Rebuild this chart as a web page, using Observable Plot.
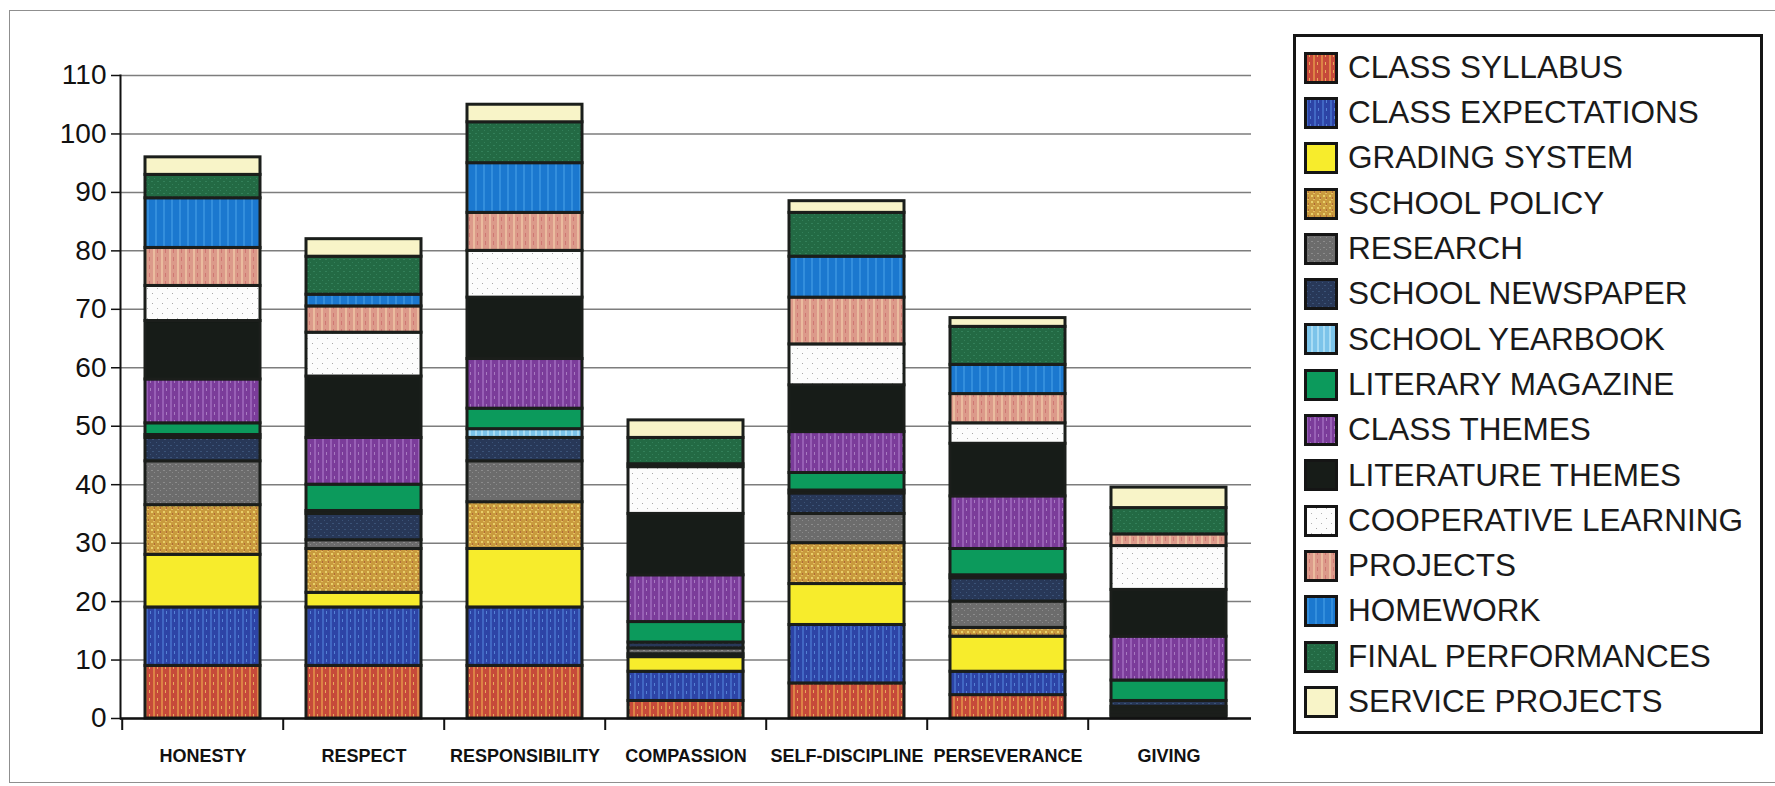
<!DOCTYPE html>
<html>
<head>
<meta charset="utf-8">
<script src="https://cdn.jsdelivr.net/npm/d3@7"></script>
<script src="https://cdn.jsdelivr.net/npm/@observablehq/plot@0.6"></script>
<style>
  body { margin: 0; background: #fff; }
  #wrap { position: relative; width: 1775px; height: 786px; overflow: hidden; background: #fff;
          font-family: "Liberation Sans", Arial, sans-serif; }
  #frame { position: absolute; left: 9px; top: 10px; width: 1800px; height: 771px; border: 1.5px solid #8f8f8f; }
  #chart { position: absolute; left: 0; top: 0; }
  #legend { position: absolute; left: 1293px; top: 34px; width: 470px; height: 700px; box-sizing: border-box;
            border: 3px solid #151515; padding-top: 8px; background: #fff; }
  .row { height: 45.3px; display: flex; align-items: center; }
  .row svg { margin-left: 8px; margin-right: 10px; flex: none; }
  .row span { font-size: 31.5px; color: #1a1a1a; white-space: nowrap; line-height: 1; }
</style>
</head>
<body>
<svg width="0" height="0" style="position:absolute">
  <defs>
    <pattern id="p0" width="8" height="8" patternUnits="userSpaceOnUse">
      <rect width="8" height="8" fill="#c64a3a"/>
      <rect x="1" y="0" width="2" height="8" fill="#e39548" opacity="0.75"/>
      <rect x="5" y="2" width="1" height="3" fill="#f0c060" opacity="0.8"/>
    </pattern>
    <pattern id="p1" width="8" height="8" patternUnits="userSpaceOnUse">
      <rect width="8" height="8" fill="#2d44a6"/>
      <rect x="2" y="0" width="2" height="8" fill="#4a76d0" opacity="0.7"/>
      <rect x="6" y="3" width="1" height="3" fill="#5d8ee0" opacity="0.8"/>
    </pattern>
    <pattern id="p3" width="6" height="6" patternUnits="userSpaceOnUse">
      <rect width="6" height="6" fill="#c99a3e"/>
      <rect x="1" y="1" width="2" height="2" fill="#e8cf6a"/>
      <rect x="4" y="3" width="1" height="2" fill="#b06a3a"/>
      <rect x="3" y="5" width="2" height="1" fill="#e3c060"/>
    </pattern>
    <pattern id="p4" width="6" height="6" patternUnits="userSpaceOnUse">
      <rect width="6" height="6" fill="#6c6c6c"/>
      <rect x="1" y="2" width="2" height="1" fill="#8c8c8c"/>
      <rect x="4" y="4" width="1" height="1" fill="#8a8a8a"/>
    </pattern>
    <pattern id="p5" width="6" height="6" patternUnits="userSpaceOnUse">
      <rect width="6" height="6" fill="#283858"/>
      <rect x="2" y="1" width="2" height="1" fill="#3b5378"/>
      <rect x="0" y="4" width="1" height="1" fill="#3b5378"/>
    </pattern>
    <pattern id="p6" width="6" height="6" patternUnits="userSpaceOnUse">
      <rect width="6" height="6" fill="#7cc4ea"/>
      <rect x="1" y="0" width="2" height="6" fill="#a8dcf4"/>
    </pattern>
    <pattern id="p8" width="8" height="8" patternUnits="userSpaceOnUse">
      <rect width="8" height="8" fill="#7b3c9a"/>
      <rect x="2" y="0" width="2" height="8" fill="#9d68bc" opacity="0.8"/>
      <rect x="6" y="4" width="1" height="3" fill="#b088c8" opacity="0.8"/>
    </pattern>
    <pattern id="p10" width="10" height="10" patternUnits="userSpaceOnUse">
      <rect width="10" height="10" fill="#fcfcfc"/>
      <rect x="2" y="3" width="1" height="1" fill="#a8a8a8"/>
      <rect x="7" y="8" width="1" height="1" fill="#b4b4b4"/>
    </pattern>
    <pattern id="p11" width="8" height="8" patternUnits="userSpaceOnUse">
      <rect width="8" height="8" fill="#dc9a8a"/>
      <rect x="1" y="0" width="2" height="8" fill="#eec4a4" opacity="0.8"/>
      <rect x="5" y="1" width="1" height="4" fill="#c96a6a" opacity="0.7"/>
    </pattern>
    <pattern id="p12" width="8" height="8" patternUnits="userSpaceOnUse">
      <rect width="8" height="8" fill="#1b78cf"/>
      <rect x="3" y="0" width="2" height="8" fill="#3d97e2" opacity="0.7"/>
    </pattern>
    <pattern id="p13" width="6" height="6" patternUnits="userSpaceOnUse">
      <rect width="6" height="6" fill="#236a44"/>
      <rect x="1" y="1" width="2" height="1" fill="#33805a"/>
      <rect x="4" y="4" width="1" height="1" fill="#33805a"/>
    </pattern>
  </defs>
</svg>
<div id="wrap">
  <div id="frame"></div>
  <div id="chart"></div>
  <div id="legend"></div>
</div>
<script>
// ---- data ----
const categories = ["HONESTY", "RESPECT", "RESPONSIBILITY", "COMPASSION", "SELF-DISCIPLINE", "PERSEVERANCE", "GIVING"];
const seriesNames = ["CLASS SYLLABUS", "CLASS EXPECTATIONS", "GRADING SYSTEM", "SCHOOL POLICY", "RESEARCH",
  "SCHOOL NEWSPAPER", "SCHOOL YEARBOOK", "LITERARY MAGAZINE", "CLASS THEMES", "LITERATURE THEMES",
  "COOPERATIVE LEARNING", "PROJECTS", "HOMEWORK", "FINAL PERFORMANCES", "SERVICE PROJECTS"];

const classSyllabus       = [9,   9,    9,    3,    6,   4,   0.5];
const classExpectations   = [10,  10,   10,   5,    10,  4,   0.5];
const gradingSystem       = [9,   2.5,  10,   2.5,  7,   6,   0.5];
const schoolPolicy        = [8.5, 7.5,  8,    0.5,  7,   1.5, 0];
const research            = [7.5, 1.5,  7,    1,    5,   4.5, 0.5];
const schoolNewspaper     = [4,   4.5,  4,    1,    3.5, 4,   1];
const schoolYearbook      = [0.5, 0.5,  1.5,  0,    0.5, 0.5, 0];
const literaryMagazine    = [2,   4.5,  3.5,  3.5,  3,   4.5, 3.5];
const classThemes         = [7.5, 8,    8.5,  8,    7,   9,   7.5];
const literatureThemes    = [10,  10.5, 10.5, 10.5, 8,   9,   8];
const cooperativeLearning = [6,   7.5,  8,    8,    7,   3.5, 7.5];
const projects            = [6.5, 4.5,  6.5,  0.5,  8,   5,   2];
const homework            = [8.5, 2,    8.5,  0,    7,   5,   0];
const finalPerformances   = [4,   6.5,  7,    4.5,  7.5, 6.5, 4.5];
const serviceProjects     = [3,   3,    3,    3,    2,   1.5, 3.5];

const seriesFills = ["url(#p0)", "url(#p1)", "#f7ec2c", "url(#p3)", "url(#p4)", "url(#p5)", "url(#p6)",
  "#0c9a5c", "url(#p8)", "#171c18", "url(#p10)", "url(#p11)", "url(#p12)", "url(#p13)", "#f8f4c8"];
const yTicks = [0, 10, 20, 30, 40, 50, 60, 70, 80, 90, 100, 110];

// ---- table ----
const seriesValues = [classSyllabus, classExpectations, gradingSystem, schoolPolicy, research,
  schoolNewspaper, schoolYearbook, literaryMagazine, classThemes, literatureThemes,
  cooperativeLearning, projects, homework, finalPerformances, serviceProjects];
const rows = [];
seriesNames.forEach((s, i) => categories.forEach((c, j) => {
  const v = seriesValues[i][j];
  if (v > 0) rows.push({category: c, series: s, value: v});
}));

const W = 1280, H = 786, ML = 120, MR = 29, MT = 75, MB = 68;
const step = (W - ML - MR) / categories.length;

const chart = Plot.plot({
  width: W, height: H,
  marginLeft: ML, marginRight: MR, marginTop: MT, marginBottom: MB,
  style: {fontFamily: "'Liberation Sans', Arial, sans-serif", color: "#111", background: "transparent", overflow: "visible"},
  x: {domain: categories, paddingInner: 0.287, paddingOuter: 0.1435, label: null},
  y: {domain: [0, 110], label: null},
  color: {domain: seriesNames, range: seriesFills},
  marks: [
    Plot.ruleY(yTicks, {stroke: "#7d7d7d", strokeWidth: 1.5}),
    Plot.axisY({ticks: yTicks, tickSize: 9, tickPadding: 5, fontSize: 28, label: null, strokeWidth: 1.5}),
    Plot.barY(rows, {x: "category", y: "value", fill: "series", stroke: "#1b1e1b", strokeWidth: 3}),
    Plot.frame({anchor: "left", stroke: "#111", strokeWidth: 2}),
    Plot.ruleY([0], {stroke: "#111", strokeWidth: 2.5}),
    Plot.axisX({tickSize: 12, dx: -step / 2, tickFormat: () => "", strokeWidth: 2}),
    Plot.axisX({tickSize: 0, tickPadding: 31, fontSize: 18, fontWeight: "bold", label: null})
  ]
});
document.getElementById("chart").appendChild(chart);

// ---- legend ----
const legend = document.getElementById("legend");
seriesNames.forEach((s, i) => {
  const row = document.createElement("div");
  row.className = "row";
  row.innerHTML = `<svg width="34" height="32"><rect x="1.5" y="1.5" width="31" height="29" fill="${seriesFills[i]}" stroke="#151515" stroke-width="3"/></svg><span>${s}</span>`;
  legend.appendChild(row);
});
</script>
</body>
</html>
